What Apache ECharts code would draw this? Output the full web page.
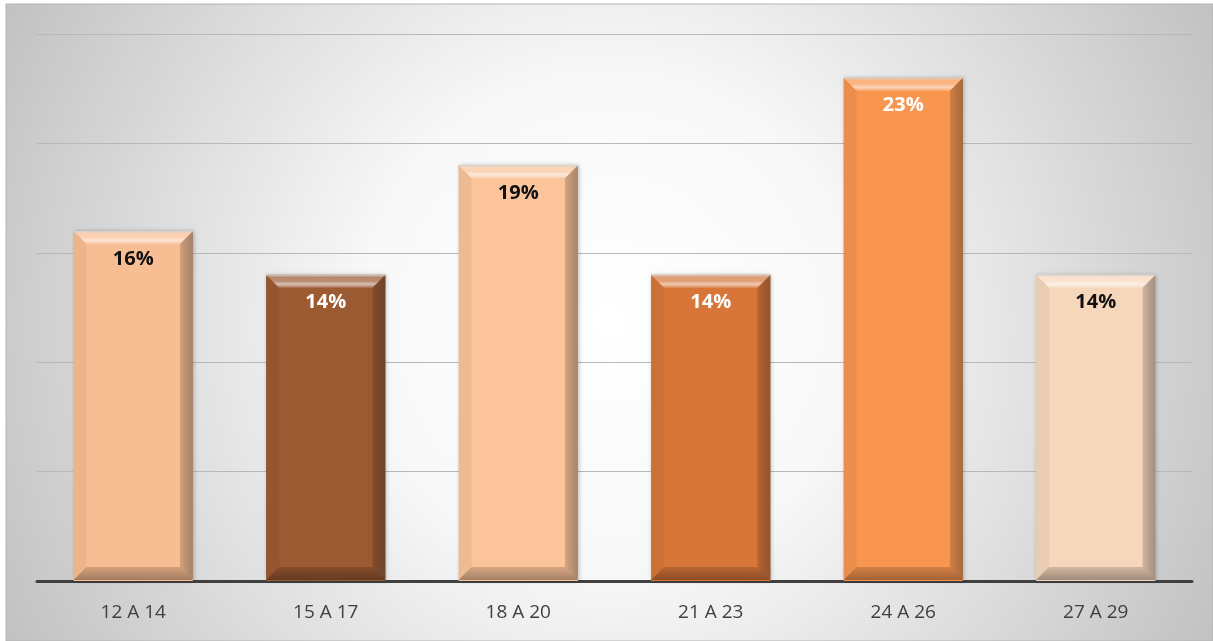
<!DOCTYPE html>
<html>
<head>
<meta charset="utf-8">
<script src="https://cdn.jsdelivr.net/npm/echarts@6/dist/echarts.min.js"></script>
<style>html,body{margin:0;padding:0;background:#fff}#c{width:1213px;height:641px}</style>
</head>
<body>
<div id="c"></div>
<script>
const categories = ['12 A 14', '15 A 17', '18 A 20', '21 A 23', '24 A 26', '27 A 29'];
const values = [16, 14, 19, 14, 23, 14];
const barColors = ['#F8BE93', '#9C5A33', '#FBC49A', '#D8763A', '#F89650', '#F6D7BC'];
const labelColors = ['#111111', '#ffffff', '#111111', '#ffffff', '#ffffff', '#111111'];

const chart = echarts.init(document.getElementById('c'));
const BW = 0.62;
const option = {
  backgroundColor: '#ffffff',
  animation: false,
  graphic: [{
    type: 'rect', z: -10, silent: true,
    shape: {x: 6, y: 4, width: 1207, height: 637},
    style: {
      fill: {type: 'radial', x: 0.5, y: 0.5, r: 1.1, colorStops: [
        {offset: 0, color: '#ffffff'}, {offset: 0.35, color: '#f8f8f8'}, {offset: 1, color: '#bfbfbf'}]},
      stroke: '#b4b4b4', lineWidth: 1
    }
  }],
  grid: {left: 37, right: 21, top: 34, bottom: 60},
  xAxis: {
    type: 'category', data: categories,
    axisLine: {show: true, lineStyle: {color: '#404040', width: 3}},
    axisTick: {show: false},
    axisLabel: {color: '#404040', fontSize: 19, fontFamily: 'Open Sans', margin: 22}
  },
  yAxis: {
    type: 'value', min: 0, max: 25, interval: 5,
    axisLabel: {show: false}, axisLine: {show: false}, axisTick: {show: false},
    splitLine: {lineStyle: {color: '#b8b8b8', width: 1}}
  },
  series: [{
    type: 'bar', barWidth: (BW * 100) + '%',
    data: values.map((v, i) => ({value: v, itemStyle: {color: barColors[i]},
      label: {color: labelColors[i]}})),
    label: {show: true, position: 'insideTop', distance: 18, formatter: '{c}%',
      fontSize: 20, fontWeight: 'bold', fontFamily: 'Open Sans'},
    itemStyle: {shadowColor: 'rgba(0,0,0,0.25)', shadowBlur: 4, shadowOffsetX: 1}
  }, {
    type: 'custom', z: 3, silent: true,
    data: values.map((v, i) => [i, v]),
    renderItem: function (params, api) {
      const top = api.coord([api.value(0), api.value(1)]);
      const base = api.coord([api.value(0), 0]);
      const w = api.size([1, 0])[0] * BW;
      const x0 = top[0] - w / 2, x1 = top[0] + w / 2, y0 = top[1], y1 = base[1] - 1;
      const d = 13;
      return {type: 'group', children: [
        {type: 'polygon', shape: {points: [[x0, y0], [x1, y0], [x1 - d, y0 + d], [x0 + d, y0 + d]]},
          style: {fill: {type: 'linear', x: 0, y: 0, x2: 0, y2: 1, colorStops: [
            {offset: 0, color: 'rgba(255,255,255,0.5)'}, {offset: 0.2, color: 'rgba(255,255,255,0.28)'},
            {offset: 0.5, color: 'rgba(255,255,255,0.3)'}, {offset: 0.72, color: 'rgba(255,255,255,0.62)'},
            {offset: 1, color: 'rgba(255,255,255,0.18)'}]}}},
        {type: 'polygon', shape: {points: [[x0, y0], [x0 + d, y0 + d], [x0 + d, y1 - d], [x0, y1]]},
          style: {fill: 'rgba(0,0,0,0.05)'}},
        {type: 'polygon', shape: {points: [[x1, y0], [x1, y1], [x1 - d, y1 - d], [x1 - d, y0 + d]]},
          style: {fill: {type: 'linear', x: 0, y: 0, x2: 1, y2: 0, colorStops: [
            {offset: 0, color: 'rgba(0,0,0,0.15)'}, {offset: 1, color: 'rgba(40,40,40,0.4)'}]}}},
        {type: 'polygon', shape: {points: [[x0, y1], [x0 + d, y1 - d], [x1 - d, y1 - d], [x1, y1]]},
          style: {fill: {type: 'linear', x: 0, y: 0, x2: 0, y2: 1, colorStops: [
            {offset: 0, color: 'rgba(0,0,0,0.15)'}, {offset: 1, color: 'rgba(0,0,0,0.35)'}]}}},
        {type: 'rect', shape: {x: x0, y: y0, width: w, height: 1.5},
          style: {fill: 'rgba(200,200,200,0.6)'}}
      ]};
    }
  }]
};
chart.setOption(option);
</script>
</body>
</html>
